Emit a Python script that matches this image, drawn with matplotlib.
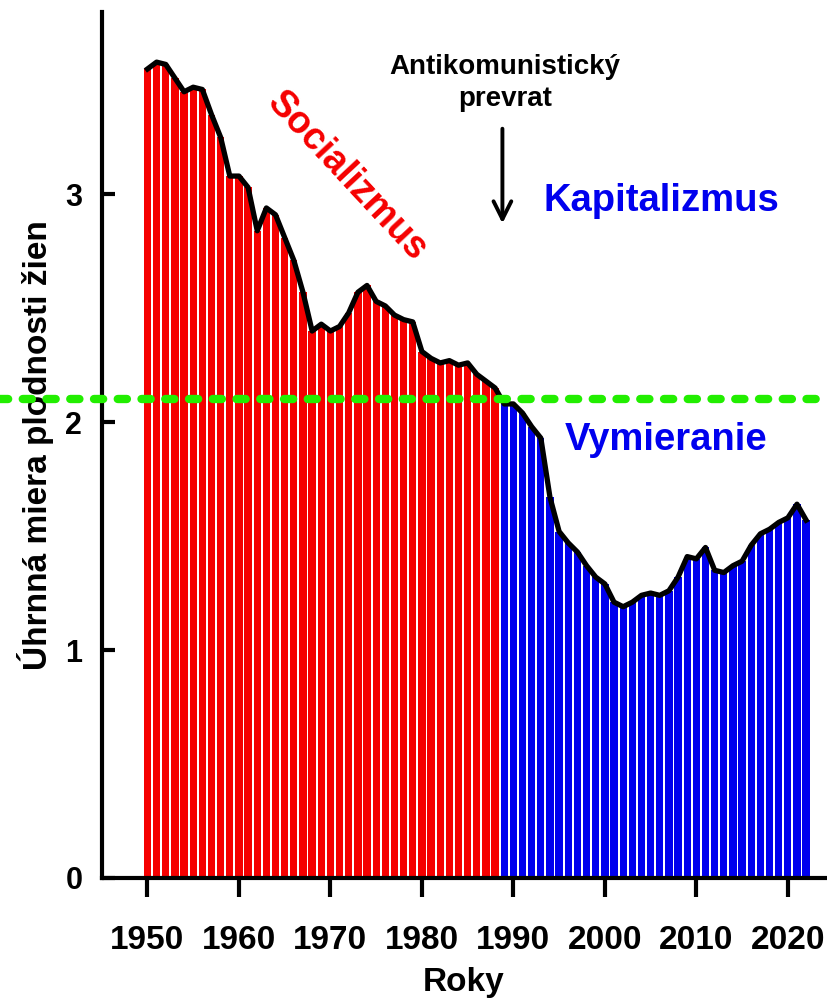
import matplotlib
matplotlib.use('Agg')
import matplotlib.pyplot as plt

# total fertility rate, Slovakia
years = list(range(1950, 2023))
tfr = [3.55, 3.58, 3.57, 3.51, 3.45, 3.47, 3.46, 3.35, 3.25, 3.08,
       3.08, 3.03, 2.84, 2.94, 2.91, 2.81, 2.71, 2.57, 2.40, 2.43,
       2.40, 2.42, 2.48, 2.57, 2.60, 2.53, 2.51, 2.47, 2.45, 2.44,
       2.31, 2.28, 2.26, 2.27, 2.25, 2.26, 2.21, 2.18, 2.15, 2.08,
       2.08, 2.04, 1.98, 1.93, 1.67, 1.52, 1.47, 1.43, 1.37, 1.32,
       1.29, 1.21, 1.19, 1.21, 1.24, 1.25, 1.24, 1.26, 1.32, 1.41,
       1.40, 1.45, 1.35, 1.34, 1.37, 1.39, 1.46, 1.51, 1.53, 1.56,
       1.58, 1.64, 1.57]
split_year = 1989
replacement = 2.1
xticks = [1950, 1960, 1970, 1980, 1990, 2000, 2010, 2020]
yticks = [0, 1, 2, 3]

plt.rcParams['font.family'] = ['Liberation Sans', 'DejaVu Sans']
plt.rcParams['font.weight'] = 'bold'
plt.rcParams['axes.labelweight'] = 'bold'

fig = plt.figure(figsize=(8.27, 10.01), dpi=100)
ax = fig.add_axes([0.123, 0.123, 0.875, 0.865])

colors = ['#f50000' if y < split_year else '#0000ee' for y in years]
ax.bar(years, tfr, width=0.8, color=colors, zorder=2)
ax.plot(years, tfr, color='black', lw=3.8, solid_joinstyle='round', zorder=3)
ax.plot([1933.5, 2025], [replacement, replacement], color='#22ee00', lw=6,
        dashes=(1.1, 1.75), dash_capstyle='round', clip_on=False, zorder=4)

ax.annotate('', xy=(1988.8, 2.86), xytext=(1988.8, 3.3),
            arrowprops=dict(arrowstyle='->', lw=2.8, color='black',
                            mutation_scale=32))
ax.text(1989.1, 3.49, 'Antikomunistický\nprevrat', ha='center', va='center',
        fontsize=20, linespacing=1.3)
ax.text(1971.8, 3.08, 'Socializmus', color='#f50000', fontsize=27,
        rotation=-47, ha='center', va='center', rotation_mode='anchor')
ax.text(2006.2, 2.97, 'Kapitalizmus', color='#0000ee', fontsize=27.5,
        ha='center', va='center')
ax.text(2006.7, 1.92, 'Vymieranie', color='#0000ee', fontsize=27.5,
        ha='center', va='center')

ax.set_xlim(1945, 2024.1)
ax.set_ylim(0, 3.8)
ax.set_xticks(xticks)
ax.set_yticks(yticks)
ax.tick_params(axis='x', direction='out', length=14, width=3, pad=20,
               labelsize=24)
ax.tick_params(axis='y', direction='in', length=9, width=3, pad=14,
               labelsize=22)
for s in ['top', 'right']:
    ax.spines[s].set_visible(False)
for s in ['left', 'bottom']:
    ax.spines[s].set_linewidth(3)
ax.set_xlabel('Roky', fontsize=24, labelpad=8)
ax.set_ylabel('Úhrnná miera plodnosti žien', fontsize=24, labelpad=8)

fig.savefig('out.png', dpi=100)
